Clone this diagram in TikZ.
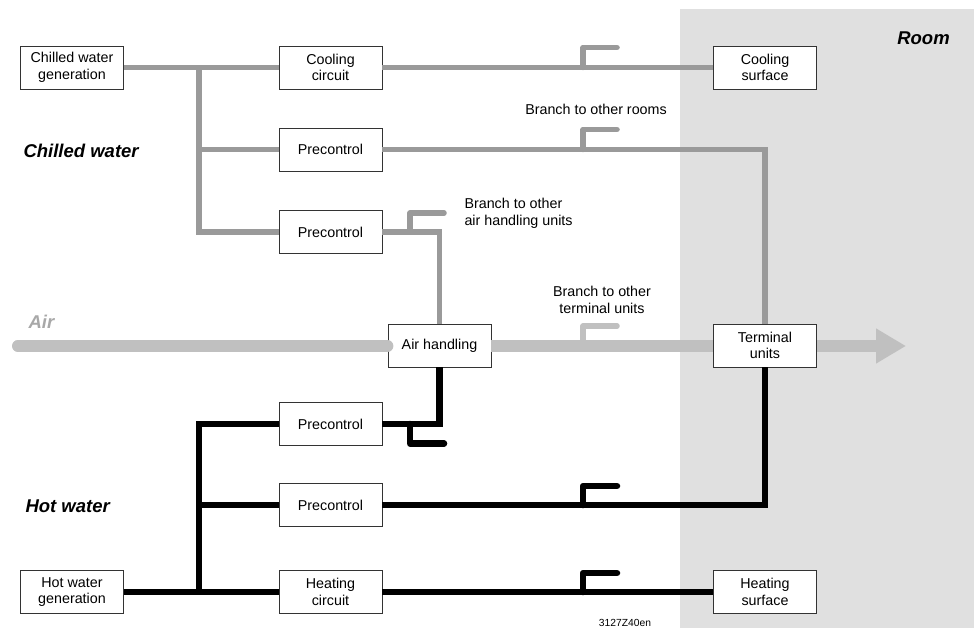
\documentclass[tikz,border=0pt]{standalone}
\usepackage{fontspec}
\setmainfont{Liberation Sans}
\usetikzlibrary{arrows.meta}
\definecolor{grigiotubo}{HTML}{9A9A9A}
\definecolor{grigioaria}{HTML}{C0C0C0}
\definecolor{grigiostanza}{HTML}{E0E0E0}
\definecolor{grigioscritta}{HTML}{A8A8A8}

\begin{document}
\begin{tikzpicture}[x=1pt,y=-1pt,
    scatola/.style={draw=black!80,line width=0.8pt,fill=white,minimum width=103pt,
        minimum height=43pt,inner sep=0pt,align=center,font=\fontsize{14.3}{16.7}\selectfont},
    freddo/.style={draw=grigiotubo,line width=5.5pt},
    caldo/.style={draw=black,line width=6.5pt},
    aria/.style={draw=grigioaria,line width=11.5pt},
    titolo/.style={font=\fontsize{18.5}{22}\selectfont\bfseries\itshape},
    testo/.style={font=\fontsize{14.3}{16.7}\selectfont}]
    % --- macro riutilizzabili -----------------------------------------
    \def\stacco#1#2#3{\draw[#1,line cap=round,line join=round] (#2) -- ++(0,#3) -- ++(34,0);}
    % --- cornice e stanza ---------------------------------------------
    \useasboundingbox (0,0) rectangle (974,628);
    \fill[grigiostanza] (680,9) rectangle (974,628);
    \node[titolo] (stanza) at (923.5,38) {Room};
    % --- scatole ------------------------------------------------------
    \node[scatola] (genfredda) at (72,67.5) {Chilled water\\generation};
    \node[scatola] (circfredda) at (330.5,67.5) {Cooling\\circuit};
    \node[scatola] (suprfredda) at (765,67.5) {Cooling\\surface};
    \node[scatola] (preA) at (330.5,149.5) {Precontrol};
    \node[scatola] (preB) at (330.5,232) {Precontrol};
    \node[scatola] (uta) at (439.5,345.5) {Air handling};
    \node[scatola] (terminali) at (765,345.5) {Terminal\\units};
    \node[scatola] (preC) at (330.5,424) {Precontrol};
    \node[scatola] (preD) at (330.5,505) {Precontrol};
    \node[scatola] (gencalda) at (72,592) {Hot water\\generation};
    \node[scatola] (circcalda) at (330.5,592) {Heating\\circuit};
    \node[scatola] (suprcalda) at (765,592) {Heating\\surface};
    % --- acqua fredda -------------------------------------------------
    \coordinate (nodofreddo) at (199,67.5);
    \draw[freddo] (genfredda) -- (circfredda);
    \draw[freddo] (nodofreddo) |- (preB.west);
    \draw[freddo] (nodofreddo |- preA) -- (preA.west);
    \draw[freddo] (circfredda) -- (suprfredda);
    \draw[freddo] (preA.east) -| (terminali.north);
    \draw[freddo] (preB.east) -| (uta.north);
    \stacco{freddo}{583,67.5}{-20}
    \stacco{freddo}{583,149.5}{-20}
    \stacco{freddo}{410,232}{-19}
    % --- aria ---------------------------------------------------------
    \coordinate (ariaentra) at (17.75,346);
    \coordinate (ariaesce) at (906,346);
    \draw[aria,line cap=round] (ariaentra) -- (uta.west |- ariaentra);
    \draw[aria] (uta.east |- ariaentra) -- (terminali.west |- ariaentra);
    \draw[aria,-{Triangle[length=30pt,width=33pt]}] (terminali.east |- ariaentra) -- (ariaesce);
    \stacco{draw=grigioaria,line width=5.5pt}{583,346}{-20}
    % --- acqua calda --------------------------------------------------
    \coordinate (nodocaldo) at (199,592);
    \draw[caldo] (gencalda) -- (circcalda);
    \draw[caldo] (nodocaldo) |- (preC.west);
    \draw[caldo] (nodocaldo |- preD) -- (preD.west);
    \draw[caldo] (circcalda) -- (suprcalda);
    \draw[caldo] (preC.east) -| (uta.south);
    \draw[caldo] (preD.east) -| (terminali.south);
    \stacco{caldo}{410,424}{19.5}
    \stacco{caldo}{583,505}{-19}
    \stacco{caldo}{583,592}{-19}
    % --- etichette ----------------------------------------------------
    \node[titolo,anchor=west] (lblfredda) at (20,151) {Chilled water};
    \node[titolo,anchor=west] (lblcalda) at (22,506) {Hot water};
    \node[titolo,text=grigioscritta,anchor=west] (lblaria) at (25,322) {Air};
    \node[testo] (ramoA) at (596,109) {Branch to other rooms};
    \node[testo,align=left,anchor=west] (ramoB) at (461,213.5) {Branch to other\\air handling units};
    \node[testo,align=center] (ramoC) at (602,300) {Branch to other\\terminal units};
    \node[font=\fontsize{10.3}{12}\selectfont] (codice) at (625,623) {3127Z40en};
\end{tikzpicture}
\end{document}
